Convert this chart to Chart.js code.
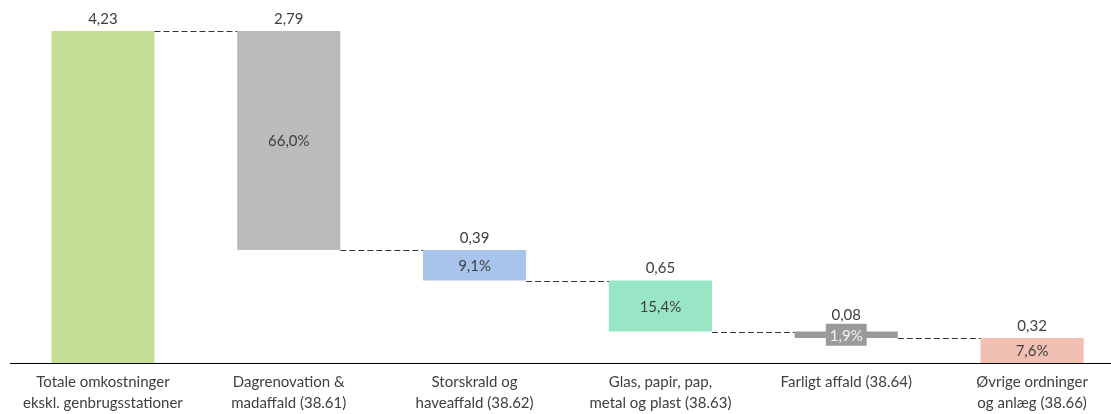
<!DOCTYPE html>
<html>
<head>
<meta charset="utf-8">
<script src="https://cdn.jsdelivr.net/npm/chart.js@4"></script>
<style>
    html, body { margin: 0; padding: 0; background: #fff; overflow: hidden; }
</style>
</head>
<body>
<canvas id="costChart" width="1125" height="414"></canvas>
<script>
const categories = [
    ['Totale omkostninger', 'ekskl. genbrugsstationer'],
    ['Dagrenovation &', 'madaffald (38.61)'],
    ['Storskrald og', 'haveaffald (38.62)'],
    ['Glas, papir, pap,', 'metal og plast (38.63)'],
    'Farligt affald (38.64)',
    ['Øvrige ordninger', 'og anlæg (38.66)'],
]
const amounts = [4.23, 2.79, 0.39, 0.65, 0.08, 0.32]
const shares = [null, 66.0, 9.1, 15.4, 1.9, 7.6]
const colors = ['#c5df97', '#babbbd', '#a9c4eb', '#99e6c6', '#9a9a9a', '#f2c0b2']

const FONT = 'Lato, "Open Sans", sans-serif'
const TEXT = '#404040'

// total bar from zero, then each part hangs from the running level
const ranges = [[0, amounts[0]]]
let level = amounts[0]
for (let i = 1; i < amounts.length; i++) {
    const low = Math.round((level - amounts[i]) * 100) / 100
    ranges.push([low, level])
    level = low
}

const fmt = (v, d) => v.toFixed(d).replace('.', ',')

const waterfallLabels = {
    id: 'waterfallLabels',
    afterDatasetsDraw(chart) {
        const ctx = chart.ctx
        const bars = chart.getDatasetMeta(0).data
        const y = chart.scales.y
        ctx.save()

        // dashed connectors between bars
        ctx.strokeStyle = '#333'
        ctx.lineWidth = 1
        ctx.setLineDash([6, 3])
        for (let i = 0; i < bars.length - 1; i++) {
            const a = bars[i], b = bars[i + 1]
            const yy = Math.round(y.getPixelForValue(ranges[i + 1][1])) + 0.5
            ctx.beginPath()
            ctx.moveTo(a.x + a.width / 2, yy)
            ctx.lineTo(b.x - b.width / 2, yy)
            ctx.stroke()
        }
        ctx.setLineDash([])

        ctx.font = '15px ' + FONT
        ctx.textAlign = 'center'
        ctx.textBaseline = 'middle'
        bars.forEach((bar, i) => {
            let top = bar.y
            if (shares[i] !== null) {
                const txt = fmt(shares[i], 1) + '%'
                const cy = (bar.y + bar.base) / 2
                if (bar.base - bar.y < 20) {
                    // thin bar: label sits on its own grey box
                    const w = ctx.measureText(txt).width + 8
                    const h = 22
                    ctx.fillStyle = '#9a9a9a'
                    ctx.fillRect(bar.x - w / 2, cy - h / 2, w, h)
                    ctx.fillStyle = '#f2f2f2'
                    ctx.fillText(txt, bar.x, cy + 1)
                    top = Math.min(top, cy - h / 2) + 3
                } else {
                    ctx.fillStyle = TEXT
                    ctx.fillText(txt, bar.x, cy + 1)
                }
            }
            ctx.fillStyle = TEXT
            ctx.fillText(fmt(amounts[i], 2), bar.x, top - 12)
        })
        ctx.restore()
    }
}

const config = {
    type: 'bar',
    data: {
        labels: categories,
        datasets: [{
            data: ranges,
            backgroundColor: colors,
            borderWidth: 0,
            categoryPercentage: 1,
            barPercentage: 0.555,
        }]
    },
    options: {
        responsive: false,
        animation: false,
        layout: { padding: { left: 10, right: 0, top: 0, bottom: 0 } },
        plugins: {
            legend: { display: false },
            tooltip: { enabled: false },
        },
        scales: {
            x: {
                grid: { display: false, drawTicks: false },
                border: { display: true, color: '#000', width: 1 },
                ticks: {
                    color: TEXT,
                    padding: 9,
                    maxRotation: 0,
                    autoSkip: false,
                    font: { family: FONT, size: 15, lineHeight: 1.4 },
                },
                afterFit(scale) { scale.height = 51 },
            },
            y: {
                display: false,
                min: 0,
                max: 4.625,
            }
        }
    },
    plugins: [waterfallLabels],
}

const myChart = new Chart(document.getElementById('costChart'), config)
</script>
</body>
</html>
